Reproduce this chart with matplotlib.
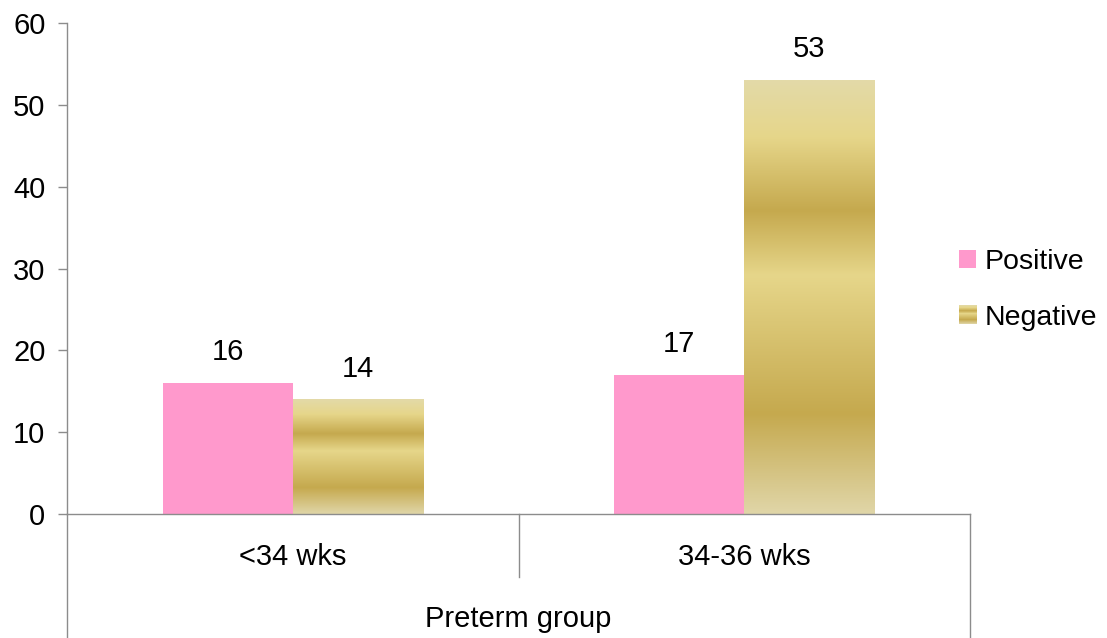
import numpy as np
import matplotlib
matplotlib.use("Agg")
import matplotlib.pyplot as plt
from matplotlib.colors import LinearSegmentedColormap
from matplotlib.legend_handler import HandlerBase
from matplotlib.image import BboxImage
from matplotlib.transforms import Bbox, TransformedBbox
from matplotlib.patches import Patch

# Data
groups = ["<34 wks", "34-36 wks"]
positive = [16, 17]
negative = [14, 53]
series_names = ["Positive", "Negative"]
axis_title = "Preterm group"
y_ticks = [0, 10, 20, 30, 40, 50, 60]

PINK = "#FF99CC"
LINE = "#8C8C8C"
FS = 21

plt.rcParams["font.family"] = ["Liberation Sans", "DejaVu Sans"]
plt.rcParams["font.size"] = FS

# Banded gold fill (top -> bottom)
gold = LinearSegmentedColormap.from_list(
    "gold",
    [(0.00, "#E3DAA8"), (0.13, "#E6D68A"), (0.30, "#C5A94E"),
     (0.45, "#E6D68A"), (0.77, "#C5A94E"), (1.00, "#E0D6A8")],
)
grad = gold(np.linspace(0, 1, 256))[:, None, :3]

W, H = 1107, 638
fig = plt.figure(figsize=(W / 100, H / 100), dpi=100)
ax = fig.add_axes([67 / W, (H - 514) / H, (970 - 67) / W, (514 - 23) / H])

x = np.arange(len(groups))
bw = 0.288
ax.bar(x - bw / 2, positive, bw, color=PINK, zorder=2)
neg_bars = ax.bar(x + bw / 2, negative, bw, color="none", zorder=2)
for b in neg_bars:
    x0, w, h = b.get_x(), b.get_width(), b.get_height()
    ax.imshow(grad, extent=[x0, x0 + w, 0, h], aspect="auto",
              interpolation="bilinear", origin="upper", zorder=2)

# Value labels
for xi, v in zip(x - bw / 2, positive):
    ax.annotate(str(v), (xi, v), xytext=(0, 16.5), textcoords="offset points",
                ha="center", va="baseline", fontsize=FS)
for xi, v in zip(x + bw / 2, negative):
    ax.annotate(str(v), (xi, v), xytext=(0, 16.5), textcoords="offset points",
                ha="center", va="baseline", fontsize=FS)

ax.set_xlim(-0.5, len(groups) - 0.5)
ax.set_ylim(0, 60)
ax.set_yticks(y_ticks)
ax.set_xticks([])
ax.tick_params(axis="y", length=6.5, width=1, color=LINE, pad=9, labelsize=FS)

for s in ["top", "right"]:
    ax.spines[s].set_visible(False)
ax.spines["left"].set_color(LINE)
ax.spines["bottom"].set_color(LINE)
ax.spines["left"].set_linewidth(1)
ax.spines["bottom"].set_linewidth(1)

# Two-level category axis below the plot
ah = 514 - 23
y_sep = -(577 - 514) / ah
y_bot = -(H - 514) / ah
ax.plot([0, 0], [0, y_bot], transform=ax.transAxes, color=LINE, lw=1, clip_on=False)
ax.plot([1, 1], [0, y_bot], transform=ax.transAxes, color=LINE, lw=1, clip_on=False)
for k in range(1, len(groups)):
    xf = k / len(groups)
    ax.plot([xf, xf], [0, y_sep], transform=ax.transAxes, color=LINE, lw=1, clip_on=False)
for k, g in enumerate(groups):
    ax.text((k + 0.5) / len(groups), -(557 - 514) / ah, g, transform=ax.transAxes,
            ha="center", va="center", fontsize=FS)
ax.text(0.5, -(619 - 514) / ah, axis_title, transform=ax.transAxes,
        ha="center", va="center", fontsize=FS)


class GradientHandler(HandlerBase):
    def create_artists(self, legend, orig_handle, xdescent, ydescent,
                       width, height, fontsize, trans):
        bb = Bbox.from_bounds(-xdescent, -ydescent, width, height)
        img = BboxImage(TransformedBbox(bb, trans), interpolation="bilinear")
        img.set_data(grad)
        return [img]


class GradPatch(Patch):
    pass


handles = [Patch(facecolor=PINK, edgecolor="none"), GradPatch(facecolor="#D8C070")]
leg = fig.legend(handles, series_names, loc="center left",
                 bbox_to_anchor=(959 / W, (H - 290) / H), frameon=False,
                 fontsize=20.5, handlelength=0.6, handleheight=0.6,
                 handletextpad=0.3, labelspacing=1.05, borderpad=0,
                 borderaxespad=0, handler_map={GradPatch: GradientHandler()})

fig.savefig("out.png", dpi=100)
